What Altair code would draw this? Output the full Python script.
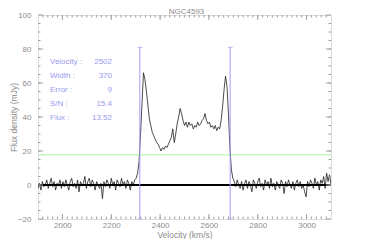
import altair as alt
import pandas as pd

# ---- data ----
velocity = [
    1900, 1906, 1912, 1918, 1924, 1930, 1936, 1942, 1948, 1954,
    1960, 1966, 1972, 1978, 1984, 1990, 1996, 2002, 2008, 2014,
    2020, 2026, 2032, 2038, 2044, 2050, 2056, 2062, 2068, 2074,
    2080, 2086, 2092, 2098, 2104, 2110, 2116, 2122, 2128, 2134,
    2140, 2146, 2152, 2158, 2164, 2170, 2176, 2182, 2188, 2194,
    2200, 2206, 2212, 2218, 2224, 2230, 2236, 2242, 2248, 2254,
    2260, 2266, 2272, 2278, 2284, 2290, 2296, 2302, 2308, 2314,
    2320, 2326, 2332, 2338, 2344, 2350, 2356, 2362, 2368, 2374,
    2380, 2386, 2392, 2398, 2404, 2410, 2416, 2422, 2428, 2434,
    2440, 2446, 2452, 2458, 2464, 2470, 2476, 2482, 2488, 2494,
    2500, 2506, 2512, 2518, 2524, 2530, 2536, 2542, 2548, 2554,
    2560, 2566, 2572, 2578, 2584, 2590, 2596, 2602, 2608, 2614,
    2620, 2626, 2632, 2638, 2644, 2650, 2656, 2662, 2668, 2674,
    2680, 2686, 2692, 2698, 2704, 2710, 2716, 2722, 2728, 2734,
    2740, 2746, 2752, 2758, 2764, 2770, 2776, 2782, 2788, 2794,
    2800, 2806, 2812, 2818, 2824, 2830, 2836, 2842, 2848, 2854,
    2860, 2866, 2872, 2878, 2884, 2890, 2896, 2902, 2908, 2914,
    2920, 2926, 2932, 2938, 2944, 2950, 2956, 2962, 2968, 2974,
    2980, 2986, 2992, 2998, 3004, 3010, 3016, 3022, 3028, 3034,
    3040, 3046, 3052, 3058, 3064, 3070, 3076, 3082, 3088, 3094,
    3100,
]
flux = [
    -2, 1, -3, 2, -1, 0, 3, -2, 1, 4,
    -1, 2, -3, 1, 0, 3, -2, 2, -1, 3,
    0, -3, 2, 4, -1, 1, -2, 3, -4, 2,
    0, 1, 5, -2, 2, 4, -1, 3, 1, -3,
    2, 0, -2, 1, -8, 2, -1, 3, 1, -2,
    4, 0, 2, -3, 3, 1, -1, 4, 0, 2,
    -2, 3, 1, -3, 2, 0, 3, 4, 7, 14,
    30, 48, 66, 62, 55, 47, 39, 35, 31, 29,
    27, 25, 24, 22, 20, 22, 21, 23, 22, 24,
    26, 28, 33, 25, 30, 36, 40, 45, 42, 38,
    35, 37, 34, 37, 35, 36, 33, 35, 34, 37,
    35, 36, 38, 39, 42, 38, 36, 37, 34, 35,
    33, 35, 32, 34, 33, 38, 46, 56, 64, 58,
    42, 22, 9, 4, 2, -1, 3, 0, -2, 2,
    -3, 1, 3, -2, 2, 0, -4, 3, 1, -2,
    2, 4, -1, 1, -3, 3, 0, 2, -2, 4,
    -1, 1, -3, 2, 0, -2, 3, 1, -5, 2,
    -1, 3, 0, -2, 2, -3, 1, 3, -1, 2,
    -2, 0, -4, -7, 2, -1, 3, 1, -2, 4,
    0, 2, -3, 3, 1, 5, -2, 7, 2, 6,
    0,
]

title_text = "NGC4593"
x_title = "Velocity (km/s)"
y_title = "Flux density (mJy)"
x_domain = [1900, 3100]
y_domain = [-20, 100]
x_major = [2000, 2200, 2400, 2600, 2800, 3000]
x_minor = list(range(1920, 3100, 20))
y_major = [-20, 0, 20, 40, 60, 80, 100]
y_minor = list(range(-15, 100, 5))
edge_velocities = [2317, 2687]
edge_top = 81
edge_bottom = -20
zero_level = [0]
threshold_level = [17.7]
info_labels = ["Velocity :", "Width :", "Error :", "S/N :", "Flux :"]
info_values = ["2502", "370", "9", "15.4", "13.52"]

# ---- styling ----
W, H = 293, 204
FONT = "Liberation Sans"
GRAY = "#8c8c8c"
FRAME = "#a0a0a0"
BLUE = "#9e9ef5"
GREEN = "#a6f0a6"
TEXT_BLUE = "#9a9af0"

xs = alt.Scale(domain=x_domain, nice=False, zero=False)
ys = alt.Scale(domain=y_domain, nice=False, zero=False)

x_axis = alt.Axis(
    values=x_major, title=x_title, format="d", ticks=False, tickSize=0,
    domain=False, grid=False, labelPadding=2, labelFontSize=8,
    titleFontSize=8.5, titlePadding=1, labelColor=GRAY, titleColor=GRAY,
    titleFontWeight="normal", labelFont=FONT, titleFont=FONT,
    labelFlush=False, labelOverlap=False)
y_axis = alt.Axis(
    values=y_major, title=y_title, format="d", ticks=False, tickSize=0,
    domain=False, grid=False, labelPadding=7, labelFontSize=8,
    titleFontSize=8.5, titleX=-25, titleY=H / 2, titleAngle=270,
    titleBaseline="middle", titleAlign="center",
    labelColor=GRAY, titleColor=GRAY,
    titleFontWeight="normal", labelFont=FONT, titleFont=FONT,
    labelFlush=False, labelOverlap=False)

spec_df = pd.DataFrame({"v": velocity, "f": flux})

spectrum = alt.Chart(spec_df).mark_line(
    color="#1e1e1e", strokeWidth=0.8, clip=True
).encode(
    x=alt.X("v:Q", scale=xs, axis=x_axis),
    y=alt.Y("f:Q", scale=ys, axis=y_axis),
)

zero_line = alt.Chart(pd.DataFrame({"f": zero_level})).mark_rule(
    color="black", strokeWidth=2
).encode(y=alt.Y("f:Q", scale=ys, axis=y_axis))

green_line = alt.Chart(pd.DataFrame({"f": threshold_level})).mark_rule(
    color=GREEN, strokeWidth=1
).encode(y=alt.Y("f:Q", scale=ys, axis=y_axis))

edge_df = pd.DataFrame({
    "v": edge_velocities,
    "top": [edge_top] * len(edge_velocities),
    "bottom": [edge_bottom] * len(edge_velocities),
})
edge_lines = alt.Chart(edge_df).mark_rule(color=BLUE, strokeWidth=1).encode(
    x=alt.X("v:Q", scale=xs, axis=x_axis),
    y=alt.Y("bottom:Q", scale=ys, axis=y_axis),
    y2="top:Q",
)
end_df = pd.DataFrame({
    "v": edge_velocities * 2,
    "y": [edge_top] * len(edge_velocities) + [edge_bottom] * len(edge_velocities),
})
edge_ends = alt.Chart(end_df).mark_tick(
    color=BLUE, orient="horizontal", size=5, thickness=1
).encode(
    x=alt.X("v:Q", scale=xs, axis=x_axis),
    y=alt.Y("y:Q", scale=ys, axis=y_axis),
)


def x_ticks(vals, length):
    df = pd.DataFrame({"v": vals})
    base = alt.Chart(df).mark_rule(color=FRAME, strokeWidth=1)
    xe = alt.X("v:Q", scale=xs, axis=x_axis)
    bottom = base.encode(x=xe, y=alt.value(H), y2=alt.value(H - length))
    top = base.encode(x=xe, y=alt.value(0), y2=alt.value(length))
    return [bottom, top]


def y_ticks(vals, length):
    df = pd.DataFrame({"f": vals})
    base = alt.Chart(df).mark_rule(color=FRAME, strokeWidth=1)
    ye = alt.Y("f:Q", scale=ys, axis=y_axis)
    left = base.encode(y=ye, x=alt.value(0), x2=alt.value(length))
    right = base.encode(y=ye, x=alt.value(W), x2=alt.value(W - length))
    return [left, right]


tick_layers = (x_ticks(x_minor, 2.5) + x_ticks(x_major, 5)
               + y_ticks(y_minor, 2.5) + y_ticks(y_major, 5))

one = pd.DataFrame({"k": [0]})
title_mark = alt.Chart(one).mark_text(
    text=title_text, font=FONT, fontSize=8, color=GRAY,
    align="center", baseline="alphabetic"
).encode(x=alt.value(W / 2 + 2), y=alt.value(-0.8))

info_left = alt.Chart(one).mark_text(
    text=info_labels, font=FONT, fontSize=8, color=TEXT_BLUE,
    align="left", baseline="alphabetic", lineHeight=14
).encode(x=alt.value(12), y=alt.value(48.6))

info_right = alt.Chart(one).mark_text(
    text=info_values, font=FONT, fontSize=8, color=TEXT_BLUE,
    align="right", baseline="alphabetic", lineHeight=14
).encode(x=alt.value(74), y=alt.value(48.6))

chart = alt.layer(
    green_line, spectrum, zero_line, edge_lines, edge_ends,
    *tick_layers, title_mark, info_left, info_right
).properties(
    width=W, height=H,
    autosize=alt.AutoSizeParams(type="none"),
    padding={"left": 30, "top": 7, "right": 43, "bottom": 20},
).configure_view(
    stroke=FRAME, strokeWidth=1
).configure(
    font=FONT, background="white"
)

chart.save("out.html", embed_options={"renderer": "svg", "actions": False})
